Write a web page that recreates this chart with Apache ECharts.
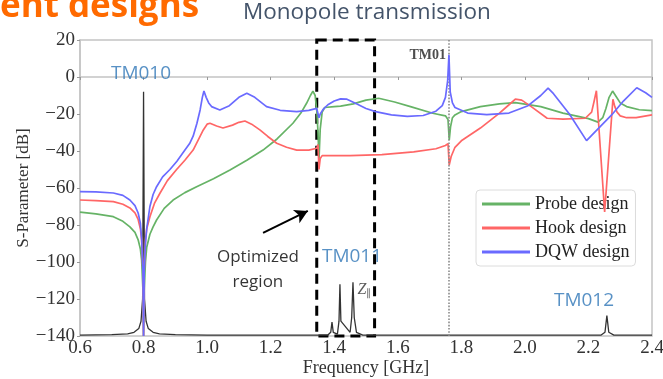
<!DOCTYPE html>
<html>
<head>
<meta charset="utf-8">
<script src="https://cdn.jsdelivr.net/npm/echarts@6/dist/echarts.min.js"></script>
<style>
  html, body { margin: 0; padding: 0; background: #fff; }
  #chart { width: 663px; height: 379px; }
</style>
</head>
<body>
<div id="chart"></div>
<script>
// Transmission curves of three coupler designs, S-parameter in dB vs frequency in GHz
const probeFreq = [0.60,0.65,0.705,0.735,0.757,0.773,0.783,0.79,0.794,0.798,0.80,0.802,0.806,0.81,0.82,0.83,0.841,0.865,0.893,0.93,0.967,1.02,1.072,1.125,1.176,1.22,1.27,1.295,1.313,1.325,1.333,1.34,1.345,1.349,1.352,1.356,1.362,1.37,1.40,1.42,1.46,1.50,1.54,1.59,1.64,1.71,1.75,1.758,1.762,1.766,1.772,1.78,1.80,1.86,1.92,1.97,2.05,2.12,2.20,2.23,2.245,2.255,2.265,2.276,2.285,2.30,2.32,2.36,2.40];
const probeDb   = [-73,-74,-75.5,-78,-81,-84,-88,-93,-99,-115,-140,-115,-100,-92,-85,-81,-77.3,-71,-66.5,-62.5,-59.3,-55,-50.3,-45,-39.5,-33.5,-25,-19.5,-14.2,-10,-7.6,-10,-18,-30,-45,-28,-19,-16.5,-16,-15.7,-14.5,-12.5,-11.5,-13.5,-16,-19.6,-21,-23,-34,-27,-22,-20.5,-18.7,-16,-14.5,-13.9,-16,-19.5,-22.5,-24.4,-22,-17,-11,-7.6,-10,-14,-16,-17.7,-18.2];

const hookFreq = [0.60,0.65,0.705,0.735,0.757,0.773,0.783,0.79,0.794,0.798,0.80,0.802,0.806,0.81,0.82,0.835,0.852,0.875,0.904,0.93,0.956,0.975,0.988,1.00,1.009,1.03,1.05,1.08,1.10,1.119,1.14,1.166,1.19,1.219,1.25,1.282,1.32,1.345,1.349,1.352,1.356,1.362,1.45,1.55,1.65,1.72,1.75,1.758,1.762,1.768,1.78,1.80,1.86,1.92,1.95,1.97,1.99,2.02,2.07,2.12,2.19,2.21,2.218,2.225,2.251,2.277,2.283,2.29,2.30,2.32,2.35,2.40];
const hookDb   = [-66.5,-66.8,-67.4,-68.8,-70.8,-73.5,-77,-82,-88,-105,-140,-105,-88,-82,-75.5,-68,-62.7,-56,-50,-45,-39.5,-33,-28.6,-25.5,-25,-26.5,-27.6,-26,-24.5,-23.8,-25.5,-28.6,-32,-35.8,-38,-39.5,-39.5,-38.5,-36.5,-50,-44,-42.5,-42.5,-42,-40.5,-38.8,-37,-36,-47.5,-43,-38,-34.5,-27.6,-19.5,-15,-12,-12.5,-16,-22.3,-22.8,-22.3,-19,-13,-7.4,-73,-12,-16,-19,-21,-22,-22,-20.5];

const dqwFreq = [0.60,0.65,0.705,0.735,0.757,0.773,0.783,0.79,0.794,0.798,0.80,0.802,0.806,0.81,0.82,0.83,0.841,0.86,0.883,0.905,0.924,0.945,0.956,0.968,0.978,0.985,0.99,0.997,1.005,1.014,1.04,1.07,1.10,1.125,1.15,1.187,1.23,1.282,1.32,1.345,1.349,1.352,1.356,1.365,1.38,1.40,1.42,1.44,1.47,1.50,1.53,1.58,1.63,1.68,1.72,1.74,1.75,1.757,1.761,1.765,1.772,1.78,1.82,1.88,1.95,2.01,2.05,2.073,2.09,2.14,2.194,2.23,2.273,2.31,2.352,2.38,2.40];
const dqwDb   = [-62,-62.1,-62.7,-64,-66.5,-69.5,-73.5,-79,-88,-105,-140,-105,-90,-82,-70,-63.5,-59.3,-54,-50,-45.5,-41,-36,-32,-25,-17.8,-11,-7.6,-11,-14,-16,-17.8,-15.5,-11,-8.8,-11,-16,-18,-18.7,-18,-17,-16.5,-22,-20,-17.5,-15,-13,-11.8,-12,-14.5,-17,-18.7,-20.5,-21.3,-20.8,-18.5,-15.5,-11,-2,12,-8,-14,-16.5,-19.5,-20.3,-19.5,-15.5,-10,-6,-9,-20,-34.4,-28,-20.5,-13,-5.8,-8.5,-11];

// Longitudinal impedance trace (black), in the same dB frame
const zFreq = [0.60,0.70,0.75,0.77,0.785,0.792,0.797,0.80,0.803,0.808,0.815,0.83,0.85,0.90,1.00,1.38,1.389,1.393,1.397,1.41,1.415,1.418,1.421,1.45,1.455,1.459,1.463,1.47,1.49,2.24,2.252,2.258,2.264,2.28,2.40];
const zDb   = [-139.5,-139.3,-138.8,-138,-136,-132,-120,-8,-120,-132,-136,-138,-138.8,-139.3,-139.5,-139.5,-138,-132.5,-138,-139,-132,-112,-132,-138,-130,-111,-130,-138,-139.5,-139.5,-138,-129,-138,-139.5,-139.5];

const seriesNames = ['Probe design', 'Hook design', 'DQW design'];
const xTicks = [0.6, 2.4, 0.2];
const yTicks = [-140, 20, 20];

// Mode annotations: [text, freq, dB]
const modeNotes = [['TM010', 0.792, 1.6], ['TM011', 1.456, -97.3], ['TM012', 2.186, -121]];
const optimizedNote = ['Optimized\nregion', 1.16, -104.3];
const tm01Note = ['TM01', 1.752, 11.9];
const zNote = [1.495, -115];
const resonanceLine = 1.761;
const regionBox = [[1.345, 20], [1.527, -140]];
const arrowPts = [[1.176, -84.3], [1.317, -72.4]];

const zip = (a, b) => a.map((v, i) => [v, b[i]]);
const serif = 'Liberation Serif';
const sans = 'Open Sans';

const chart = echarts.init(document.getElementById('chart'));

const notesData = modeNotes.map(n => ({
  value: [n[1], n[2]],
  label: { formatter: n[0], color: '#2e75b6', fontFamily: sans, fontSize: 19 }
}));
notesData.push({
  value: [optimizedNote[1], optimizedNote[2]],
  label: { formatter: optimizedNote[0], color: '#000', fontFamily: sans, fontSize: 17, lineHeight: 25 }
});
notesData.push({
  value: [tm01Note[1], tm01Note[2]],
  label: { formatter: tm01Note[0], color: '#222', fontFamily: serif, fontSize: 14, fontWeight: 'bold', align: 'right' }
});
notesData.push({
  value: zNote,
  label: {
    formatter: '{z|Z}{s|∥}',
    rich: {
      z: { fontFamily: serif, fontStyle: 'italic', fontSize: 16, color: '#333' },
      s: { fontFamily: serif, fontSize: 10, color: '#333', verticalAlign: 'bottom', padding: [8, 0, 0, 0] }
    }
  }
});

const lineCommon = {
  type: 'line',
  symbol: 'none',
  smooth: false,
  animation: false
};

chart.setOption({
  animation: false,
  backgroundColor: '#fff',
  grid: {
    left: 80, right: 11, top: 40, bottom: 43,
    outerBoundsMode: 'none',
    show: true, borderColor: '#c4c4c4', borderWidth: 1.5, backgroundColor: 'transparent'
  },
  legend: {
    data: seriesNames,
    orient: 'vertical',
    left: 476, top: 190,
    padding: [5, 6, 5, 6],
    itemGap: 6,
    icon: 'rect',
    itemWidth: 48, itemHeight: 3,
    borderColor: '#dcdcdc', borderWidth: 1, borderRadius: 4,
    backgroundColor: 'rgba(255,255,255,0.9)',
    textStyle: { fontFamily: serif, fontSize: 18, color: '#222' }
  },
  xAxis: {
    type: 'value',
    min: xTicks[0], max: xTicks[1], interval: xTicks[2],
    name: 'Frequency [GHz]', nameLocation: 'middle', nameGap: 23, nameMoveOverlap: false,
    nameTextStyle: { fontFamily: serif, fontSize: 18, color: '#333' },
    axisLine: { show: true, lineStyle: { color: '#c4c4c4', width: 1.5 } },
    axisTick: { show: true, length: 3, lineStyle: { color: '#999' } },
    axisLabel: { fontFamily: serif, fontSize: 19, color: '#333', margin: 3,
      formatter: v => v.toFixed(1) },
    splitLine: { show: false }
  },
  yAxis: {
    type: 'value',
    min: yTicks[0], max: yTicks[1], interval: yTicks[2],
    name: 'S-Parameter [dB]', nameLocation: 'middle', nameGap: 48, nameMoveOverlap: false,
    nameTextStyle: { fontFamily: serif, fontSize: 17, color: '#333' },
    axisLine: { show: true, lineStyle: { color: '#c4c4c4', width: 1.5 } },
    axisTick: { show: true, length: 3, lineStyle: { color: '#999' } },
    axisLabel: { fontFamily: serif, fontSize: 19, color: '#333', margin: 5,
      formatter: v => String(v).replace('-', '\u2212') },
    splitLine: { show: false }
  },
  graphic: [
    { type: 'text', left: 0, top: -10, silent: true,
      style: { text: 'ent designs', fill: '#ff6a00', font: 'bold 35px "Open Sans"' } },
    { type: 'text', left: 243, top: 1, silent: true,
      style: { text: 'Monopole transmission', fill: '#44546a', font: '22.5px "Open Sans"' } }
  ],
  series: [
    Object.assign({}, lineCommon, {
      name: seriesNames[0], data: zip(probeFreq, probeDb),
      itemStyle: { color: '#66b366' }, lineStyle: { color: '#66b366', width: 1.7 }, z: 3
    }),
    Object.assign({}, lineCommon, {
      name: seriesNames[1], data: zip(hookFreq, hookDb),
      itemStyle: { color: '#ff6666' }, lineStyle: { color: '#ff6666', width: 1.7 }, z: 4
    }),
    Object.assign({}, lineCommon, {
      name: seriesNames[2], data: zip(dqwFreq, dqwDb),
      itemStyle: { color: '#6a6aff' }, lineStyle: { color: '#6a6aff', width: 1.7 }, z: 5
    }),
    {
      type: 'line', name: 'Z', symbol: 'none', smooth: false,
      data: zip(zFreq, zDb),
      lineStyle: { color: '#333', width: 1.3 }, z: 2,
      markLine: {
        silent: true, animation: false,
        symbol: 'none',
        label: { show: false },
        data: [
          { xAxis: resonanceLine, lineStyle: { color: '#8a8a8a', type: 'dotted', width: 1.6 } },
          [
            { coord: arrowPts[0], symbol: 'none' },
            { coord: arrowPts[1], symbol: 'arrow', symbolSize: [11, 13] }
          ]
        ],
        lineStyle: { color: '#000', width: 2, type: 'solid' }
      },
      markArea: {
        silent: true,
        data: [[
          { xAxis: regionBox[0][0], yAxis: regionBox[0][1] },
          { xAxis: regionBox[1][0], yAxis: regionBox[1][1] }
        ]],
        itemStyle: { color: 'rgba(0,0,0,0)', borderColor: '#000', borderWidth: 3, borderType: [10, 6] }
      }
    },
    {
      type: 'scatter', name: 'notes', symbolSize: 0, silent: true, z: 10,
      label: { show: true, position: 'inside', align: 'center', verticalAlign: 'middle' },
      data: notesData
    }
  ]
});
</script>
</body>
</html>
